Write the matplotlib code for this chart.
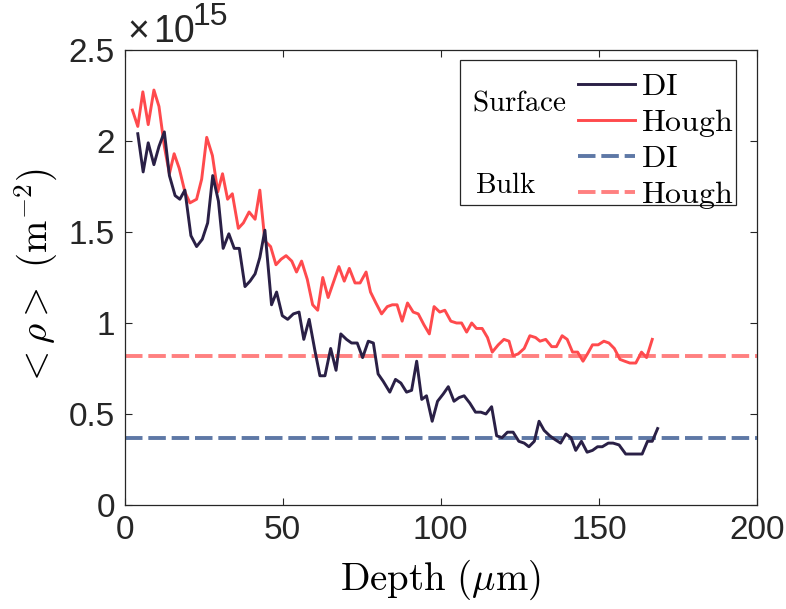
import numpy as np
import matplotlib.pyplot as plt
from matplotlib.lines import Line2D
from matplotlib.patches import Rectangle

plt.rcParams['font.family'] = ['Liberation Sans', 'DejaVu Sans']
plt.rcParams['mathtext.fontset'] = 'cm'

# Oberflaeche (Surface), Werte in 1e15 m^-2
depth_di = [4.2, 5.9, 7.5, 9.3, 10.9, 12.6, 14.2, 16.0, 17.5, 19.1, 21.0, 22.8, 24.6, 26.3, 27.9,
            29.7, 31.2, 33.0, 34.7, 36.3, 38.1, 39.7, 41.3, 42.8, 44.4, 46.5, 48.1, 49.9, 51.6,
            53.4, 55.2, 56.7, 58.4, 60.2, 61.8, 63.4, 65.2, 66.9, 68.4, 70.2, 71.8, 73.6, 75.3,
            77.1, 78.7, 80.2, 81.8, 83.9, 85.7, 87.4, 89.2, 90.8, 92.4, 94.0, 95.5, 97.3, 99.0,
            100.8, 102.4, 104.2, 105.8, 107.4, 109.2, 111.0, 112.7, 114.3, 116.1, 117.7, 119.4,
            121.1, 122.9, 124.7, 126.4, 127.9, 129.6, 131.1, 132.7, 134.5, 136.1, 137.9, 139.6,
            141.2, 142.7, 144.5, 146.3, 148.0, 149.6, 151.1, 153.0, 154.5, 156.4, 158.5, 160.4,
            162.1, 163.7, 165.4, 166.9, 168.6]
rho_di = [2.04, 1.83, 1.99, 1.87, 1.97, 2.05, 1.81, 1.70, 1.68, 1.73, 1.48, 1.42, 1.46, 1.55, 1.81,
          1.67, 1.41, 1.49, 1.41, 1.41, 1.20, 1.23, 1.27, 1.36, 1.51, 1.10, 1.17, 1.04, 1.02,
          1.05, 1.06, 0.91, 1.02, 0.85, 0.71, 0.71, 0.86, 0.74, 0.94, 0.91, 0.89, 0.89, 0.81,
          0.90, 0.89, 0.72, 0.68, 0.62, 0.69, 0.67, 0.62, 0.63, 0.79, 0.58, 0.60, 0.46, 0.57,
          0.61, 0.65, 0.57, 0.59, 0.60, 0.56, 0.51, 0.51, 0.50, 0.54, 0.38, 0.37,
          0.40, 0.40, 0.35, 0.34, 0.32, 0.35, 0.46, 0.41, 0.38, 0.36, 0.34, 0.39,
          0.37, 0.30, 0.35, 0.29, 0.30, 0.32, 0.32, 0.34, 0.34, 0.33, 0.28, 0.28,
          0.28, 0.28, 0.35, 0.35, 0.42]

depth_hough = [2.5, 4.2, 5.8, 7.5, 9.3, 10.9, 12.6, 14.2, 15.7, 17.3, 19.1, 20.7, 22.8, 24.4, 26.0,
               27.8, 29.5, 31.0, 32.6, 34.1, 36.0, 37.6, 39.4, 41.3, 42.8, 44.4, 46.2, 47.9, 49.5,
               51.1, 52.9, 54.4, 56.0, 57.8, 59.5, 61.1, 62.7, 64.4, 66.0, 67.8, 69.5, 71.1, 72.9,
               74.5, 76.4, 77.8, 79.5, 81.3, 83.1, 84.7, 86.2, 87.8, 89.5, 91.3, 92.9, 94.7, 96.4,
               97.9, 99.7, 101.3, 103.2, 105.0, 106.6, 108.2, 109.8, 111.3, 113.1, 114.8, 116.3,
               118.2, 120.0, 121.6, 122.9, 124.5, 126.4, 128.2, 130.0, 131.4, 133.2, 135.1, 136.6,
               138.4, 140.0, 141.7, 143.3, 145.0, 146.4, 148.0, 149.8, 151.6, 153.2, 154.9, 156.7,
               158.2, 159.8, 161.7, 163.5, 165.1, 166.9]
rho_hough = [2.17, 2.08, 2.27, 2.09, 2.28, 2.19, 1.97, 1.82, 1.93, 1.85, 1.72, 1.66, 1.68, 1.79, 2.02,
             1.92, 1.72, 1.82, 1.68, 1.71, 1.52, 1.55, 1.61, 1.57, 1.73, 1.45, 1.42, 1.32, 1.35,
             1.37, 1.34, 1.28, 1.34, 1.24, 1.10, 1.07, 1.25, 1.14, 1.22, 1.31, 1.23, 1.30, 1.22,
             1.22, 1.28, 1.17, 1.11, 1.05, 1.09, 1.10, 1.10, 1.01, 1.11, 1.06, 1.05, 0.99, 0.94,
             1.09, 1.06, 1.07, 1.01, 1.00, 1.00, 0.95, 1.00, 0.97, 0.97, 0.92, 0.84,
             0.88, 0.91, 0.90, 0.82, 0.83, 0.86, 0.93, 0.92, 0.90, 0.91, 0.87, 0.87,
             0.93, 0.91, 0.84, 0.84, 0.79, 0.83, 0.88, 0.88, 0.90, 0.89, 0.86, 0.80,
             0.79, 0.78, 0.78, 0.84, 0.81, 0.91]

# Volumen (Bulk)
bulk_di = 0.367
bulk_hough = 0.82

col_di = '#2a2046'
col_hough = '#ff4a4d'
col_bulk_di = '#5e78a6'
col_bulk_hough = '#ff8080'
dash = (0, (4.5, 1.5))

fig = plt.figure(figsize=(7.86, 6.09), dpi=100)
ax = fig.add_axes([0.1584, 0.1708, 0.8046, 0.7471])

ax.axhline(bulk_di, color=col_bulk_di, linestyle=dash, linewidth=2.8)
ax.axhline(bulk_hough, color=col_bulk_hough, linestyle=dash, linewidth=2.8)
ax.plot(depth_hough, rho_hough, color=col_hough, linewidth=2.1)
ax.plot(depth_di, rho_di, color=col_di, linewidth=2.1)

ax.set_xlim(0, 200)
ax.set_ylim(0, 2.5)
ax.set_xticks([0, 50, 100, 150, 200])
ax.set_yticks([0, 0.5, 1, 1.5, 2, 2.5])
ax.set_yticklabels(['0', '0.5', '1', '1.5', '2', '2.5'])
ax.tick_params(direction='in', length=5, width=0.8, top=True, right=True,
               labelsize=24, colors='#262626', pad=7)
for s in ax.spines.values():
    s.set_color('#262626')
    s.set_linewidth(0.9)

ax.set_xlabel(r'$\mathrm{Depth\ (}\mu\mathrm{m)}$', fontsize=28, labelpad=9)
ax.set_ylabel(r'$<\rho>\ (\mathrm{m}^{-2})$', fontsize=28, labelpad=6)

# Exponent oben links (wie MATLAB)
ax.text(0.004, 1.0176, '×', transform=ax.transAxes, fontsize=27, color='#262626',
        ha='left', va='baseline')
ax.text(0.046, 1.0176, '10', transform=ax.transAxes, fontsize=27, color='#262626',
        ha='left', va='baseline')
ax.text(0.108, 1.055, '15', transform=ax.transAxes, fontsize=23, color='#262626',
        ha='left', va='baseline')

# Legende
handles = [Line2D([], [], color=col_di, linewidth=2.1),
           Line2D([], [], color=col_hough, linewidth=2.1),
           Line2D([], [], color=col_bulk_di, linestyle=dash, linewidth=2.8),
           Line2D([], [], color=col_bulk_hough, linestyle=dash, linewidth=2.8)]
labels = [r'$\mathrm{DI}$', r'$\mathrm{Hough}$', r'$\mathrm{DI}$', r'$\mathrm{Hough}$']
ax.legend(handles, labels, loc='upper left', bbox_to_anchor=(0.717, 0.952), frameon=False,
          fontsize=23, handlelength=1.78, handletextpad=0.2, labelspacing=0.16,
          borderpad=0, borderaxespad=0)
ax.add_patch(Rectangle((0.530, 0.659), 0.437, 0.319, transform=ax.transAxes,
                       fill=False, edgecolor='#262626', linewidth=0.9, zorder=5))
ax.text(0.549, 0.884, r'$\mathrm{Surface}$', transform=ax.transAxes, fontsize=21,
        ha='left', va='center')
ax.text(0.555, 0.703, r'$\mathrm{Bulk}$', transform=ax.transAxes, fontsize=21,
        ha='left', va='center')

fig.savefig('out.png', dpi=100)
